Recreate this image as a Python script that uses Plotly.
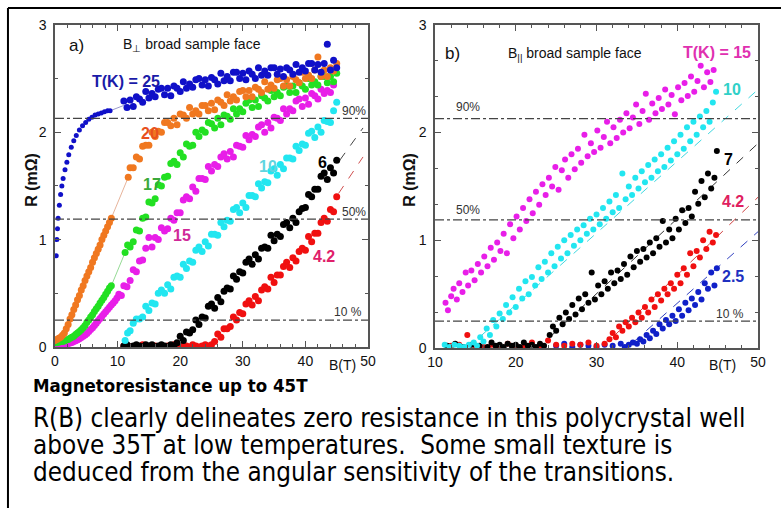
import plotly.graph_objects as go

# ---------------- panel a : B perpendicular to broad face ----------------
# T = 25 K
a25_B_lo = [0.2, 0.3, 0.4, 0.5, 0.7, 0.9, 1.1, 1.3, 1.6, 1.9, 2.2, 2.6, 3.0, 3.4, 3.9, 4.4, 4.9, 5.4, 5.9, 6.4, 6.9, 7.4, 7.9, 8.4, 8.8]
a25_R_lo = [0.85, 1.0, 1.1, 1.2, 1.32, 1.42, 1.5, 1.57, 1.65, 1.72, 1.79, 1.86, 1.92, 1.97, 2.02, 2.06, 2.09, 2.12, 2.14, 2.16, 2.17, 2.18, 2.19, 2.2, 2.2]
a25_B_hi = [11.0, 11.5, 12.0, 12.5, 13.0, 13.5, 14.0, 14.5, 15.0, 15.5, 16.0, 16.5, 17.0, 17.5, 18.0, 18.5, 19.0, 19.5, 20.0, 20.5,
            21.0, 21.5, 22.0, 22.5, 23.0, 23.5, 24.0, 24.5, 25.0, 25.5, 26.0, 26.5, 27.0, 27.5, 28.0, 28.5, 29.0, 29.5, 30.0, 30.5,
            31.0, 31.5, 32.0, 32.5, 33.0, 33.5, 34.0, 34.5, 35.0, 35.5, 36.0, 36.5, 37.0, 37.5, 38.0, 38.5, 39.0, 39.5, 40.0, 40.5,
            41.0, 41.5, 42.0, 42.5, 43.0, 43.5, 44.0, 44.5, 45.0]
a25_R_hi = [2.29, 2.23, 2.3, 2.24, 2.33, 2.31, 2.28, 2.38, 2.32, 2.36, 2.33, 2.4, 2.41, 2.35, 2.41, 2.34, 2.43, 2.41, 2.38, 2.47,
            2.41, 2.45, 2.42, 2.49, 2.5, 2.44, 2.49, 2.43, 2.51, 2.49, 2.45, 2.55, 2.48, 2.52, 2.48, 2.56, 2.56, 2.5, 2.55, 2.49,
            2.57, 2.54, 2.5, 2.6, 2.53, 2.57, 2.53, 2.6, 2.6, 2.54, 2.59, 2.52, 2.6, 2.58, 2.54, 2.63, 2.56, 2.6, 2.57, 2.64,
            2.64, 2.58, 2.63, 2.56, 2.64, 2.82, 2.58, 2.67, 2.6]
a25_B_link = [8.8, 11.0]
a25_R_link = [2.2, 2.25]

# T = 20 K
a20_B_lo = [0.0, 0.3, 0.6, 0.9, 1.2, 1.5, 1.8, 2.1, 2.4, 2.7, 3.0, 3.3, 3.6, 3.9, 4.2, 4.5, 4.8, 5.1, 5.4, 5.7, 6.0, 6.3, 6.6, 6.9, 7.2, 7.5, 7.8, 8.1, 8.4, 8.7, 9.0]
a20_R_lo = [0.06, 0.07, 0.08, 0.09, 0.11, 0.13, 0.17, 0.21, 0.26, 0.3, 0.35, 0.39, 0.44, 0.48, 0.53, 0.57, 0.62, 0.66, 0.7, 0.74, 0.79, 0.83, 0.87, 0.91, 0.95, 1.0, 1.04, 1.08, 1.12, 1.16, 1.2]
a20_B_hi = [11.7, 12.0, 12.5, 13.0, 13.5, 14.0, 14.5, 15.0, 15.5, 16.0, 16.5, 17.0, 17.5, 18.0, 18.5, 19.0, 19.5, 20.0, 20.5,
            21.0, 21.5, 22.0, 22.5, 23.0, 23.5, 24.0, 24.5, 25.0, 25.5, 26.0, 26.5, 27.0, 27.5, 28.0, 28.5, 29.0, 29.5, 30.0, 30.5,
            31.0, 31.5, 32.0, 32.5, 33.0, 33.5, 34.0, 34.5, 35.0, 35.5, 36.0, 36.5, 37.0, 37.5, 38.0, 38.5, 39.0, 39.5, 40.0, 40.5,
            41.0, 41.5, 42.0, 42.5, 43.0, 43.5, 44.0, 44.5, 45.0]
a20_R_hi = [1.58, 1.67, 1.67, 1.77, 1.75, 1.87, 1.88, 1.88, 2.0, 1.96, 2.01, 2.0, 2.09, 2.09, 2.06, 2.13, 2.07, 2.17, 2.16, 2.13, 2.23,
            2.17, 2.2, 2.17, 2.25, 2.25, 2.2, 2.27, 2.21, 2.3, 2.28, 2.25, 2.35, 2.29, 2.33, 2.3, 2.38, 2.39, 2.33, 2.39, 2.33,
            2.42, 2.4, 2.37, 2.47, 2.4, 2.44, 2.41, 2.49, 2.5, 2.43, 2.49, 2.43, 2.52, 2.49, 2.46, 2.56, 2.5, 2.53, 2.5, 2.58,
            2.7, 2.52, 2.58, 2.52, 2.6, 2.57, 2.64]
a20_B_link = [9.0, 11.7]
a20_R_link = [1.2, 1.58]

# T = 17 K
a17_B_lo = [0.0, 0.3, 0.6, 0.9, 1.2, 1.5, 1.8, 2.1, 2.4, 2.7, 3.0, 3.3, 3.6, 3.9, 4.2, 4.5, 4.8, 5.1, 5.4, 5.7, 6.0, 6.3, 6.6, 6.9, 7.2, 7.5, 7.8, 8.1, 8.4, 8.7, 9.0]
a17_R_lo = [0.04, 0.04, 0.045, 0.05, 0.05, 0.055, 0.065, 0.07, 0.08, 0.09, 0.1, 0.115, 0.13, 0.145, 0.16, 0.18, 0.2, 0.23, 0.25, 0.28, 0.3, 0.33, 0.355, 0.38, 0.41, 0.435, 0.46, 0.49, 0.52, 0.55, 0.57]
a17_B_hi = [11.2, 11.6, 12.0, 12.5, 13.0, 13.5, 14.0, 14.5, 15.0, 15.5, 16.0, 16.5, 17.0, 17.5, 18.0, 18.5, 19.0, 19.5, 20.0, 20.5,
            21.0, 21.5, 22.0, 22.5, 23.0, 23.5, 24.0, 24.5, 25.0, 25.5, 26.0, 26.5, 27.0, 27.5, 28.0, 28.5, 29.0, 29.5, 30.0, 30.5,
            31.0, 31.5, 32.0, 32.5, 33.0, 33.5, 34.0, 34.5, 35.0, 35.5, 36.0, 36.5, 37.0, 37.5, 38.0, 38.5, 39.0, 39.5, 40.0, 40.5,
            41.0, 41.5, 42.0, 42.5, 43.0, 43.5, 44.0, 44.5, 45.0]
a17_R_hi = [0.88, 0.95, 0.93, 0.98, 1.09, 1.08, 1.2, 1.21, 1.35, 1.34, 1.38, 1.51, 1.5, 1.58, 1.59, 1.71, 1.73, 1.7, 1.81, 1.77,
            1.89, 1.87, 1.88, 2.0, 1.96, 2.02, 2.0, 2.09, 2.08, 2.04, 2.13, 2.07, 2.16, 2.15, 2.12, 2.22, 2.17, 2.22, 2.19, 2.27,
            2.3, 2.23, 2.3, 2.24, 2.34, 2.32, 2.29, 2.39, 2.33, 2.37, 2.34, 2.42, 2.43, 2.37, 2.43, 2.37, 2.46, 2.43, 2.4, 2.5,
            2.44, 2.47, 2.44, 2.52, 2.52, 2.46, 2.52, 2.47, 2.55]
a17_B_link = [9.0, 11.2]
a17_R_link = [0.57, 0.88]

# T = 15 K
a15_B_lo = [0.0, 0.3, 0.6, 0.9, 1.2, 1.5, 1.8, 2.1, 2.4, 2.7, 3.0, 3.3, 3.6, 3.9, 4.2, 4.5, 4.8, 5.1, 5.4, 5.7, 6.0, 6.3, 6.6, 6.9, 7.2, 7.5, 7.8, 8.1, 8.4, 8.7, 9.0, 9.3, 9.6, 9.9]
a15_R_lo = [0.02, 0.02, 0.02, 0.02, 0.022, 0.025, 0.028, 0.031, 0.036, 0.042, 0.05, 0.058, 0.067, 0.077, 0.088, 0.1, 0.112, 0.126, 0.143, 0.162, 0.18, 0.2, 0.22, 0.243, 0.265, 0.285, 0.306, 0.327, 0.348, 0.37, 0.39, 0.41, 0.43, 0.455]
a15_B_hi = [10.2, 10.6, 11.0, 11.5, 12.0, 12.5, 13.0, 13.5, 14.0, 14.5, 15.0, 15.5, 16.0, 16.5, 17.0, 17.5, 18.0, 18.5, 19.0, 19.5, 20.0, 20.5,
            21.0, 21.5, 22.0, 22.5, 23.0, 23.5, 24.0, 24.5, 25.0, 25.5, 26.0, 26.5, 27.0, 27.5, 28.0, 28.5, 29.0, 29.5, 30.0, 30.5,
            31.0, 31.5, 32.0, 32.5, 33.0, 33.5, 34.0, 34.5, 35.0, 35.5, 36.0, 36.5, 37.0, 37.5, 38.0, 38.5, 39.0, 39.5, 40.0, 40.5,
            41.0, 41.5, 42.0, 42.5, 43.0, 43.5, 44.0, 44.5]
a15_R_hi = [0.49, 0.48, 0.57, 0.56, 0.62, 0.72, 0.7, 0.8, 0.81, 0.92, 1.02, 0.93, 1.02, 1.0, 1.11, 1.08, 1.1, 1.2, 1.18, 1.25, 1.25, 1.37,
            1.4, 1.38, 1.49, 1.45, 1.57, 1.57, 1.56, 1.68, 1.64, 1.7, 1.68, 1.77, 1.8, 1.75, 1.82, 1.77, 1.88, 1.87, 1.86, 1.97,
            1.93, 1.98, 1.96, 2.05, 2.07, 2.0, 2.09, 2.04, 2.14, 2.13, 2.11, 2.22, 2.17, 2.22, 2.2, 2.29, 2.31, 2.24, 2.32, 2.26,
            2.36, 2.34, 2.31, 2.4, 2.36, 2.39, 2.37, 2.44]

# T = 10 K
a10_B = [11.2, 11.6, 12.0, 12.5, 13.0, 13.5, 14.0, 14.5, 15.0, 15.5, 16.0, 16.5, 17.0, 17.5, 18.0, 18.5, 19.0, 19.5, 20.0, 20.5,
         21.0, 21.5, 22.0, 22.5, 23.0, 23.5, 24.0, 24.5, 25.0, 25.5, 26.0, 26.5, 27.0, 27.5, 28.0, 28.5, 29.0, 29.5, 30.0, 30.5,
         31.0, 31.5, 32.0, 32.5, 33.0, 33.5, 34.0, 34.5, 35.0, 35.5, 36.0, 36.5, 37.0, 37.5, 38.0, 38.5, 39.0, 39.5, 40.0, 40.5,
         41.0, 41.5, 42.0, 42.5, 43.0, 43.5, 44.0, 44.5, 45.0]
a10_R = [0.06, 0.13, 0.15, 0.22, 0.26, 0.26, 0.28, 0.38, 0.34, 0.41, 0.4, 0.5, 0.53, 0.5, 0.58, 0.54, 0.65, 0.66, 0.65, 0.77,
         0.73, 0.8, 0.79, 0.9, 0.93, 0.89, 0.98, 0.94, 1.05, 1.05, 1.04, 1.16, 1.12, 1.18, 1.17, 1.28, 1.3, 1.25, 1.34, 1.3,
         1.41, 1.41, 1.4, 1.52, 1.48, 1.54, 1.53, 1.64, 1.66, 1.6, 1.7, 1.66, 1.76, 1.76, 1.75, 1.87, 1.83, 1.89, 1.88, 1.99,
         2.01, 1.95, 2.05, 2.0, 2.11, 2.1, 2.09, 2.2, 2.28]

# T = 6 K
a6_B = [11.0, 11.5, 12.0, 12.5, 13.0, 13.5, 14.0, 14.5, 15.0, 15.5, 16.0, 16.5, 17.0, 17.5, 18.0, 18.5, 19.0,
        19.5, 20.0, 20.5, 21.0, 21.5, 22.0, 22.5, 23.0, 23.5, 24.0, 24.5, 25.0, 25.5, 26.0, 26.5, 27.0, 27.5, 28.0, 28.5, 29.0,
        29.5, 30.0, 30.5, 31.0, 31.5, 32.0, 32.5, 33.0, 33.5, 34.0, 34.5, 35.0, 35.5, 36.0, 36.5, 37.0, 37.5, 38.0, 38.5, 39.0,
        39.5, 40.0, 40.5, 41.0, 41.5, 42.0, 42.5, 43.0, 43.5, 44.0, 44.5, 45.0]
a6_R = [0.01, 0.02, 0.0, 0.01, 0.02, 0.01, 0.0, 0.02, 0.01, 0.02, 0.0, 0.01, 0.02, 0.01, 0.0, 0.02, 0.01,
        0.04, 0.1, 0.06, 0.14, 0.13, 0.16, 0.25, 0.21, 0.28, 0.27, 0.38, 0.4, 0.36, 0.46, 0.42, 0.52, 0.55, 0.54, 0.66, 0.63,
        0.7, 0.69, 0.79, 0.82, 0.77, 0.86, 0.82, 0.92, 0.93, 0.92, 1.04, 0.99, 1.05, 1.03, 1.14, 1.16, 1.11, 1.2, 1.16, 1.26,
        1.29, 1.3, 1.42, 1.4, 1.47, 1.47, 1.59, 1.62, 1.56, 1.67, 1.62, 1.74]
a6_B_fit = [45.5, 49.2]
a6_R_fit = [1.74, 2.04]

# T = 4.2 K
a4_B = [11.0, 12.0, 13.0, 14.0, 15.0, 16.0, 17.0, 18.0, 19.0, 20.0, 20.5, 21.0, 21.5, 22.0, 22.5, 23.0, 23.5, 24.0, 24.5, 25.0,
        25.5, 26.0, 26.5, 27.0, 27.5, 28.0, 28.5, 29.0, 29.5, 30.0, 30.5, 31.0, 31.5, 32.0, 32.5, 33.0, 33.5, 34.0, 34.5, 35.0,
        35.5, 36.0, 36.5, 37.0, 37.5, 38.0, 38.5, 39.0, 39.5, 40.0, 40.5, 41.0, 41.5, 42.0, 42.5, 43.0, 43.5, 44.0, 44.5, 45.0]
a4_R = [0.01, 0.0, 0.01, 0.02, 0.0, 0.01, 0.0, 0.01, 0.02, 0.0, 0.01, 0.01, 0.0, 0.02, 0.01, 0.0, 0.01, 0.02, 0.01, 0.02,
        0.05, 0.12, 0.09, 0.17, 0.17, 0.19, 0.28, 0.25, 0.32, 0.31, 0.4, 0.43, 0.39, 0.47, 0.43, 0.53, 0.56, 0.54, 0.65, 0.6,
        0.67, 0.67, 0.75, 0.79, 0.74, 0.83, 0.8, 0.89, 0.92, 0.9, 1.03, 0.98, 1.06, 1.06, 1.16, 1.2, 1.17, 1.28, 1.26, 1.4]
a4_B_fit = [45.3, 49.2]
a4_R_fit = [1.43, 1.77]

# ---------------- panel b : B parallel to broad face ----------------
b15_B = [11.3, 11.6, 12.0, 12.3, 12.7, 13.0, 13.4, 13.8, 14.1, 14.5, 14.9, 15.3, 15.7, 16.1, 16.5, 16.9, 17.3, 17.7, 18.1, 18.5,
         18.9, 19.3, 19.7, 20.1, 20.5, 20.9, 21.3, 21.7, 22.1, 22.5, 22.9, 23.3, 23.7, 24.1, 24.5, 24.9, 25.3, 25.7, 26.1, 26.5,
         26.9, 27.3, 27.7, 28.1, 28.5, 28.9, 29.3, 29.7, 30.1, 30.5, 30.9, 31.3, 31.7, 32.1, 32.5, 32.9, 33.3, 33.7, 34.1, 34.5,
         34.9, 35.3, 35.7, 36.1, 36.5, 36.9, 37.3, 37.7, 38.1, 38.5, 38.9, 39.3, 39.7, 40.1, 40.5, 40.9, 41.3, 41.7, 42.1, 42.5,
         42.9, 43.3, 43.7, 44.1, 44.5]
b15_R = [0.42, 0.35, 0.48, 0.55, 0.45, 0.6, 0.52, 0.7, 0.58, 0.72, 0.63, 0.78, 0.7, 0.85, 0.76, 0.93, 0.82, 0.98, 0.9, 1.06,
         0.88, 1.15, 1.02, 1.22, 1.1, 1.3, 1.18, 1.38, 1.25, 1.45, 1.33, 1.52, 1.42, 1.58, 1.5, 1.68, 1.47, 1.65, 1.75, 1.58,
         1.8, 1.66, 1.85, 1.72, 1.98, 1.78, 1.9, 1.82, 2.02, 1.86, 1.96, 2.1, 1.9, 2.05, 1.95, 2.12, 2.0, 2.18, 2.04, 2.14,
         2.26, 2.08, 2.2, 2.36, 2.12, 2.27, 2.18, 2.32, 2.22, 2.4, 2.26, 2.35, 2.17, 2.42, 2.3, 2.46, 2.34, 2.52, 2.38, 2.48,
         2.62, 2.42, 2.56, 2.47, 2.58]

b10_B = [11.2, 11.8, 12.4, 13.0, 13.6, 14.2, 14.8, 15.2, 15.6, 16.0, 16.4, 16.8, 17.2, 17.6, 18.0, 18.4, 18.8, 19.2, 19.6, 20.0,
         20.4, 20.8, 21.2, 21.6, 22.0, 22.4, 22.8, 23.2, 23.6, 24.0, 24.4, 24.8, 25.2, 25.6, 26.0, 26.4, 26.8, 27.2, 27.6, 28.0,
         28.4, 28.8, 29.2, 29.6, 30.0, 30.4, 30.8, 31.2, 31.6, 32.0, 32.4, 32.8, 33.2, 33.6, 34.0, 34.4, 34.8, 35.2, 35.6, 36.0,
         36.4, 36.8, 37.2, 37.6, 38.0, 38.4, 38.8, 39.2, 39.6, 40.0, 40.4, 40.8, 41.2, 41.6, 42.0, 42.4, 42.8, 43.2, 43.6, 44.0,
         44.4, 44.8]
b10_R = [0.03, 0.01, 0.03, 0.02, 0.01, 0.03, 0.05, 0.02, 0.1, 0.06, 0.18, 0.12, 0.26, 0.2, 0.32, 0.27, 0.4, 0.33, 0.47, 0.38,
         0.55, 0.46, 0.62, 0.5, 0.66, 0.58, 0.75, 0.64, 0.8, 0.7, 0.88, 0.76, 0.94, 0.83, 1.0, 0.88, 1.05, 0.95, 1.1, 1.0,
         1.14, 1.06, 1.2, 1.1, 1.24, 1.15, 1.3, 1.2, 1.36, 1.26, 1.42, 1.3, 1.62, 1.38, 1.5, 1.42, 1.58, 1.48, 1.64, 1.54,
         1.7, 1.58, 1.75, 1.64, 1.8, 1.68, 1.86, 1.74, 1.92, 1.8, 1.98, 1.85, 2.05, 1.92, 2.1, 1.98, 2.15, 2.05, 2.2, 2.1,
         2.28, 2.38]
b10_B_fit = [15.5, 50.0]
b10_R_fit = [0.1, 2.4]

b7_B = [11.5, 12.5, 13.5, 14.5, 15.5, 16.5, 17.0, 17.5, 18.0, 18.5, 19.0, 19.5, 20.0, 20.5, 21.0, 21.5, 22.0, 22.5, 23.0, 23.5,
        24.2, 24.6, 25.0, 25.4, 25.8, 26.2, 26.6, 27.0, 27.4, 27.8, 28.2, 28.6, 29.0, 29.4, 29.8, 30.2, 30.6, 31.0, 31.4, 31.8,
        32.2, 32.6, 33.0, 33.4, 33.8, 34.2, 34.6, 35.0, 35.4, 35.8, 36.2, 36.6, 37.0, 37.4, 37.8, 38.2, 38.6, 39.0, 39.4, 39.8,
        40.2, 40.6, 41.0, 41.4, 41.8, 42.2, 42.6, 43.0, 43.4, 43.8, 44.2, 44.6, 44.9]
b7_R = [0.02, 0.04, 0.01, 0.03, 0.02, 0.01, 0.05, 0.02, 0.03, 0.01, 0.04, 0.02, 0.03, 0.01, 0.05, 0.02, 0.03, 0.01, 0.04, 0.02,
        0.12, 0.2, 0.16, 0.28, 0.22, 0.33, 0.27, 0.4, 0.31, 0.46, 0.36, 0.5, 0.42, 0.7, 0.45, 0.58, 0.5, 0.62, 0.55, 0.7,
        0.6, 0.72, 0.64, 0.78, 0.68, 0.85, 0.75, 0.9, 0.8, 0.92, 0.84, 0.98, 0.88, 1.02, 0.94, 1.18, 0.98, 1.1, 1.02, 1.2,
        1.1, 1.28, 1.16, 1.3, 1.22, 1.45, 1.34, 1.55, 1.4, 1.62, 1.48, 1.58, 1.83]
b7_B_fit = [24.5, 50.0]
b7_R_fit = [0.12, 1.9]

b4_B = [12.0, 13.0, 14.0, 15.0, 16.0, 17.0, 18.0, 19.0, 20.0, 21.0, 22.0, 23.0, 24.0, 25.0, 26.0, 27.0, 28.0, 29.0, 30.0, 31.0,
        31.6, 32.0, 32.4, 32.8, 33.2, 33.6, 34.0, 34.4, 34.8, 35.2, 35.6, 36.0, 36.4, 36.8, 37.2, 37.6, 38.0, 38.4, 38.8, 39.2,
        39.6, 40.0, 40.4, 40.8, 41.2, 41.6, 42.0, 42.4, 42.8, 43.2, 43.6, 44.0, 44.4, 44.8]
b4_R = [0.02, 0.03, 0.12, 0.02, 0.01, 0.03, 0.02, 0.04, 0.02, 0.01, 0.05, 0.02, 0.07, 0.03, 0.02, 0.04, 0.03, 0.05, 0.02, 0.04,
        0.08, 0.14, 0.1, 0.2, 0.16, 0.24, 0.2, 0.28, 0.24, 0.33, 0.28, 0.38, 0.33, 0.45, 0.38, 0.5, 0.44, 0.55, 0.5, 0.6,
        0.55, 0.68, 0.6, 0.74, 0.68, 0.88, 0.76, 0.9, 0.84, 1.0, 0.92, 1.08, 0.98, 1.05]
b4_B_fit = [32.0, 50.0]
b4_R_fit = [0.1, 1.4]

b25_B = [25.0, 26.0, 27.0, 28.0, 29.0, 30.0, 31.0, 32.0, 33.0, 33.5, 34.0, 34.5,
         35.0, 35.4, 35.8, 36.2, 36.6, 37.0, 37.4, 37.8, 38.2, 38.6, 39.0, 39.4, 39.8, 40.2, 40.6, 41.0, 41.4, 41.8, 42.2, 42.6,
         43.0, 43.4, 43.8, 44.2, 44.6, 44.9]
b25_R = [0.02, 0.04, 0.01, 0.03, 0.02, 0.01, 0.03, 0.02, 0.04, 0.01, 0.03, 0.05,
         0.04, 0.08, 0.06, 0.12, 0.09, 0.16, 0.13, 0.22, 0.18, 0.26, 0.22, 0.3, 0.25, 0.36, 0.3, 0.42, 0.35, 0.46, 0.4, 0.52,
         0.45, 0.6, 0.55, 0.7, 0.58, 0.74]
b25_B_fit = [34.5, 50.0]
b25_R_fit = [0.05, 1.08]

levels = [2.13, 1.19, 0.25]

FONT = "Liberation Sans, Arial, sans-serif"
NARROW = "DejaVu Sans Condensed, Liberation Sans Narrow, sans-serif"

fig = go.Figure()


def dots(x, y, color, ax, size=7):
    fig.add_trace(go.Scatter(x=x, y=y, mode="markers", xaxis=ax[0], yaxis=ax[1],
                             marker=dict(color=color, size=size, line=dict(width=0)),
                             hoverinfo="skip"))


def line(x, y, color, ax, dash="solid", width=1):
    fig.add_trace(go.Scatter(x=x, y=y, mode="lines", xaxis=ax[0], yaxis=ax[1],
                             line=dict(color=color, width=width, dash=dash),
                             hoverinfo="skip"))


A = ("x", "y")
B = ("x2", "y2")

# panel a
dots(a4_B, a4_R, "#f01010", A)
line(a4_B_fit, a4_R_fit, "#d05050", A, "dash")
dots(a6_B, a6_R, "#000000", A)
line(a6_B_fit, a6_R_fit, "#444444", A, "dash")
dots(a10_B, a10_R, "#22e6f0", A)
dots(a15_B_lo, a15_R_lo, "#e81ee8", A)
dots(a15_B_hi, a15_R_hi, "#e81ee8", A)
line(a17_B_link, a17_R_link, "#7ad07a", A, width=0.8)
dots(a17_B_lo, a17_R_lo, "#22e022", A)
dots(a17_B_hi, a17_R_hi, "#22e022", A)
line(a20_B_link, a20_R_link, "#e0a080", A, width=0.8)
dots(a20_B_lo, a20_R_lo, "#f07820", A)
dots(a20_B_hi, a20_R_hi, "#f07820", A)
line(a25_B_link, a25_R_link, "#8080c0", A, width=0.8)
dots(a25_B_lo, a25_R_lo, "#1010c8", A, size=5)
dots(a25_B_hi, a25_R_hi, "#1010c8", A)

# panel b
line(b25_B_fit, b25_R_fit, "#3040c0", B, "dash")
line(b4_B_fit, b4_R_fit, "#d04040", B, "dash")
line(b7_B_fit, b7_R_fit, "#333333", B, "dash")
line(b10_B_fit, b10_R_fit, "#40d8e0", B, "dash")
dots(b25_B, b25_R, "#1020c8", B, 6)
dots(b4_B, b4_R, "#f01010", B, 6)
dots(b7_B, b7_R, "#000000", B, 6)
dots(b10_B, b10_R, "#22e6f0", B, 6)
dots(b15_B, b15_R, "#e81ee8", B, 6)

axis_style = dict(showline=True, linecolor="#555555", linewidth=1.5, mirror="allticks",
                  ticks="inside", ticklen=6, tickwidth=1.2, tickcolor="#555555",
                  showgrid=False, zeroline=False, automargin=False,
                  tickfont=dict(family=FONT, size=14, color="#111111"))

fig.update_layout(
    width=781, height=508,
    margin=dict(l=0, r=0, t=0, b=0, pad=0),
    paper_bgcolor="white", plot_bgcolor="white",
    showlegend=False,
    xaxis=dict(axis_style, range=[0, 50], dtick=10, domain=[0.0704, 0.4712], anchor="y",
               minor=dict(ticks="inside", dtick=2, ticklen=3, tickcolor="#555555")),
    yaxis=dict(axis_style, range=[0, 3], dtick=1, domain=[0.317, 0.951], anchor="x",
               ticklabelstandoff=4,
               minor=dict(ticks="inside", dtick=0.5, ticklen=3, tickcolor="#555555")),
    xaxis2=dict(axis_style, range=[10, 50], dtick=10, domain=[0.557, 0.9706], anchor="y2",
                minor=dict(ticks="inside", dtick=2, ticklen=3, tickcolor="#555555")),
    yaxis2=dict(axis_style, range=[0, 3], dtick=1, domain=[0.315, 0.951], anchor="x2",
                ticklabelstandoff=4,
                minor=dict(ticks="inside", dtick=1 / 3, ticklen=3, tickcolor="#555555")),
)

shapes = []
for xr, yr in (("x domain", "y"), ("x2 domain", "y2")):
    for lv in levels:
        shapes.append(dict(type="line", xref=xr, yref=yr, x0=0, x1=1, y0=lv, y1=lv,
                           line=dict(color="#444444", width=1.2, dash="dashdot"), layer="above"))
# outer frame (left and top edges)
shapes.append(dict(type="line", xref="paper", yref="paper", x0=0.0102, x1=0.0102, y0=0, y1=0.9843,
                   line=dict(color="black", width=2)))
shapes.append(dict(type="line", xref="paper", yref="paper", x0=0.0102, x1=1, y0=0.9843, y1=0.9843,
                   line=dict(color="black", width=2)))
fig.update_layout(shapes=shapes)

ann = []


def text(t, x, y, xref, yref, color="#111111", size=14, bold=False, **kw):
    if bold:
        t = "<b>" + t + "</b>"
    d = dict(text=t, x=x, y=y, xref=xref, yref=yref, showarrow=False,
             xanchor="center", yanchor="middle",
             font=dict(family=kw.pop("family", FONT), size=size, color=color))
    d.update(kw)
    ann.append(d)


# panel a labels
text("a)", 3.5, 2.81, "x", "y", size=17)
text("B<sub>⊥</sub> broad sample face", 21.9, 2.81, "x", "y", size=14)
text("T(K) = 25", 11.3, 2.47, "x", "y", "#1a1aa8", 16, True)
text("20", 15.2, 1.99, "x", "y", "#e8501e", 16, True)
text("17", 15.5, 1.51, "x", "y", "#3aa83a", 16, True)
text("15", 20.3, 1.04, "x", "y", "#d02898", 16, True)
text("10", 34.0, 1.68, "x", "y", "#5fd5e0", 16, True)
text("6", 42.8, 1.72, "x", "y", "#000000", 16, True)
text("4.2", 43.0, 0.84, "x", "y", "#e0206a", 16, True)
text("90%", 47.8, 2.2, "x", "y", "#333333", 12)
text("50%", 47.8, 1.26, "x", "y", "#333333", 12)
text("10 %", 46.8, 0.33, "x", "y", "#333333", 12)

# panel b labels
text("b)", 12.2, 2.73, "x2", "y2", size=17)
text("B<sub>||</sub> broad sample face", 27.3, 2.73, "x2", "y2", size=14)
text("T(K) = 15", 44.9, 2.74, "x2", "y2", "#e030b0", 16, True)
text("10", 46.8, 2.4, "x2", "y2", "#30d0c8", 16, True)
text("7", 46.3, 1.75, "x2", "y2", "#000000", 16, True)
text("4.2", 46.9, 1.36, "x2", "y2", "#e02060", 16, True)
text("2.5", 46.9, 0.66, "x2", "y2", "#2030c0", 16, True)
text("90%", 14.1, 2.24, "x2", "y2", "#333333", 12)
text("50%", 14.1, 1.28, "x2", "y2", "#333333", 12)
text("10 %", 46.5, 0.32, "x2", "y2", "#333333", 12)

# axis titles
text("R (mΩ)", 0.041, 0.646, "paper", "paper", size=16, bold=True, textangle=-90)
text("R (mΩ)", 0.525, 0.646, "paper", "paper", size=16, bold=True, textangle=-90)
text("B(T)", 46.0, 0.2815, "x", "paper", size=14)
text("B(T)", 45.6, 0.2815, "x2", "paper", size=14)

# caption below the plots
text("Magnetoresistance up to 45T", 0.04, 0.2421, "paper", "paper", "black", 18.5, True,
     family=NARROW, xanchor="left")
caption = ["R(B) clearly delineates zero resistance in this polycrystal well",
           "above 35T at low temperatures.  Some small texture is",
           "deduced from the angular sensitivity of the transitions."]
for i, ln in enumerate(caption):
    text(ln, 0.04, 0.1772 - i * 0.0532, "paper", "paper", "black", 25.8,
         family=NARROW, xanchor="left")

fig.update_layout(annotations=ann)
fig.write_html("out.html", config={"displayModeBar": False},
               post_script="document.body.style.margin='0px';document.body.style.overflow='hidden';")
